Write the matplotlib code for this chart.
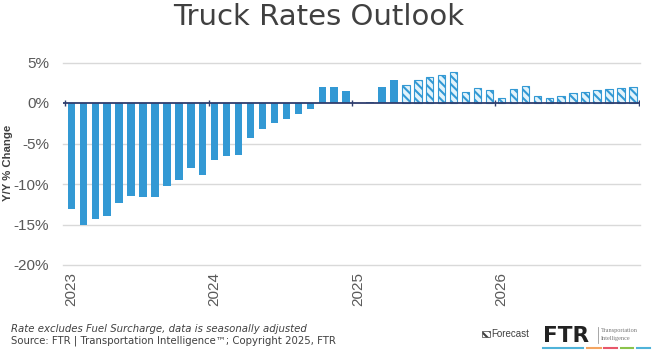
import numpy as np
import matplotlib.pyplot as plt
from matplotlib.patches import Rectangle
from matplotlib.lines import Line2D

plt.rcParams['hatch.linewidth'] = 1.5

years = ['2023', '2024', '2025', '2026']
# monthly Y/Y % change, Jan 2023 .. Dec 2026
rates = [
    -13.1, -15.1, -14.3, -14.0, -12.3, -11.5, -11.6, -11.6, -10.2, -9.5, -8.0, -8.9,
    -7.0, -6.5, -6.4, -4.3, -3.2, -2.5, -2.0, -1.4, -0.7, 2.0, 2.0, 1.5,
    0.0, 0.1, 2.0, 2.8, 2.2, 2.8, 3.2, 3.4, 3.8, 1.4, 1.9, 1.6,
    0.6, 1.7, 2.1, 0.9, 0.65, 0.85, 1.2, 1.35, 1.55, 1.7, 1.9, 2.0,
]
first_forecast = 28  # May 2025
yticks = [5, 0, -5, -10, -15, -20]

BLUE = '#3399D4'
HATCH_FACE = '#E2F3FB'
NAVY = '#2F3E6E'
GRAY = '#595959'
DARK = '#404040'

fig = plt.figure(figsize=(6.56, 3.53), dpi=100)
ax = fig.add_axes([63 / 656, 1 - 265 / 353, (640 - 63) / 656, (265 - 62.5) / 353])

x = np.arange(len(rates)) + 0.5
vals = np.array(rates)
actual = x < first_forecast
ax.bar(x[actual], vals[actual], width=0.62, color=BLUE, zorder=2)
ax.bar(x[~actual], vals[~actual], width=0.62, facecolor=HATCH_FACE,
       edgecolor=BLUE, hatch='\\\\\\\\', linewidth=0.8, zorder=2)

# zero line with year-boundary ticks
ax.axhline(0, color=NAVY, lw=1.3, zorder=3)
year_edges = np.arange(0, len(rates) + 1, 12)
ax.vlines(year_edges, -0.4, 0.4, color=NAVY, lw=1.0, zorder=3)

ax.set_xlim(-0.2, len(rates) + 0.1)
ax.set_ylim(-20, 5)
ax.set_yticks(yticks)
ax.set_yticklabels([f'{v}%' for v in yticks], family='Liberation Sans',
                   fontsize=11, color=GRAY)
for v in yticks:
    if v != 0:
        ax.axhline(v, color='#D9D9D9', lw=1.0, zorder=1, clip_on=False)

ax.set_xticks(year_edges[:-1] + 0.5)
ax.set_xticklabels(years, rotation=90, family='Liberation Sans',
                   fontsize=11, color=GRAY, va='top')
ax.tick_params(axis='both', length=0)
ax.tick_params(axis='x', pad=5)
ax.tick_params(axis='y', pad=10)
for s in ax.spines.values():
    s.set_visible(False)

fig.text(8 / 656, 1 - 163 / 353, 'Y/Y % Change', rotation=90, ha='center',
         va='center', family='Liberation Sans', fontweight='bold',
         fontsize=8.2, color=DARK)

fig.text(319 / 656, 1 - 25 / 353, 'Truck Rates Outlook', ha='center',
         va='baseline', fontsize=21, color=DARK)

# footer notes
fig.text(11 / 656, 1 - 332 / 353,
         'Rate excludes Fuel Surcharge, data is seasonally adjusted',
         fontsize=7.3, style='italic', color=DARK, va='baseline')
fig.text(11 / 656, 1 - 343 / 353,
         'Source: FTR | Transportation Intelligence\u2122; Copyright 2025, FTR',
         fontsize=7.3, color=DARK, va='baseline')

# forecast key
fig.add_artist(Rectangle((482 / 656, 1 - 337 / 353), 8 / 656, 6 / 353,
                         transform=fig.transFigure, facecolor='white',
                         edgecolor='#404040', hatch='\\\\\\\\', linewidth=0.5))
fig.text(491 / 656, 1 - 337 / 353, 'Forecast', family='Liberation Sans',
         fontsize=7, color=DARK, va='baseline')

# FTR logo
fig.text(543 / 656, 1 - 342 / 353, 'FTR', fontsize=15.5, fontweight='heavy',
         color='#222222', va='baseline')
fig.add_artist(Line2D([598 / 656] * 2, [1 - 343 / 353, 1 - 327 / 353],
                      transform=fig.transFigure, color='#999999', lw=0.6))
fig.text(601 / 656, 1 - 332 / 353, 'Transportation', fontsize=4.5,
         family='Liberation Serif', color='#777777', va='baseline')
fig.text(601 / 656, 1 - 340 / 353, 'Intelligence', fontsize=4.5,
         family='Liberation Serif', color='#777777', va='baseline')
dash_colors = ['#4FB3D9', '#F4A460', '#E8576A', '#8BC34A', '#4FB3D9']
dash_spans = [(543, 583), (587, 601), (604, 617), (621, 633), (637, 650)]
for c, (a, b) in zip(dash_colors, dash_spans):
    fig.add_artist(Line2D([a / 656, b / 656], [1 - 348 / 353] * 2,
                          transform=fig.transFigure, color=c, lw=1.5))

fig.savefig('out.png', dpi=100)
